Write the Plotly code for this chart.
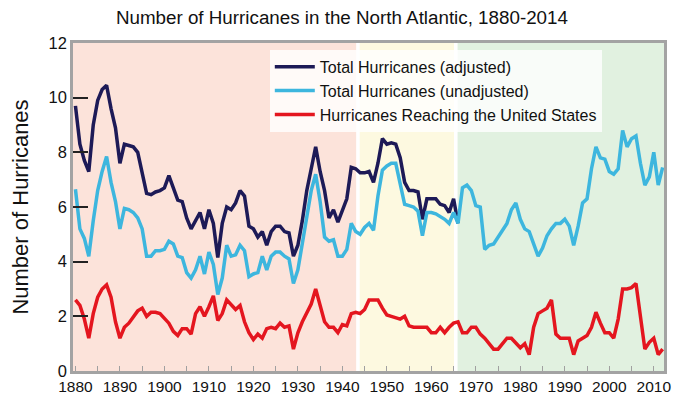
import plotly.graph_objects as go

years = list(range(1880, 2013))

adjusted_years = list(range(1880, 1967))
adjusted = [
    9.7, 8.3, 7.7, 7.3, 9.0, 9.9, 10.3, 10.45, 9.6, 8.9,
    7.6, 8.3, 8.25, 8.2, 8.0, 7.3, 6.5, 6.45, 6.55, 6.6,
    6.7, 7.15, 6.7, 6.25, 6.2, 5.6, 5.2, 5.5, 5.8, 5.2,
    5.9, 5.4, 4.15, 5.4, 6.0, 5.9, 6.15, 6.6, 6.4, 5.3,
    5.2, 4.9, 5.1, 4.6, 5.1, 5.3, 5.3, 5.1, 5.05, 4.2,
    4.6, 5.5, 6.6, 7.4, 8.2, 7.3, 6.6, 5.6, 5.9, 5.45,
    5.9, 6.3, 7.45, 7.4, 7.25, 7.25, 7.3, 6.9, 7.6, 8.5,
    8.3, 8.35, 8.3, 7.8, 6.9, 6.6, 6.6, 6.55, 5.55, 6.3,
    6.3, 6.3, 6.1, 6.05, 5.8, 6.3, 5.4,
]

unadjusted = [
    6.65, 5.2, 4.85, 4.2, 5.5, 6.6, 7.3, 7.85, 6.9, 6.2,
    5.2, 5.95, 5.9, 5.8, 5.6, 5.2, 4.2, 4.2, 4.4, 4.4,
    4.45, 4.75, 4.65, 4.2, 4.15, 3.6, 3.4, 3.7, 4.2, 3.55,
    4.35, 3.9, 2.8, 3.4, 4.6, 4.2, 4.25, 4.6, 4.4, 3.45,
    3.55, 3.6, 4.2, 3.7, 4.2, 4.35, 4.35, 4.2, 4.1, 3.2,
    3.7, 4.65, 5.75, 6.6, 7.2, 6.2, 4.9, 4.75, 4.8, 4.2,
    4.2, 4.45, 5.4, 5.1, 5.0, 5.25, 5.4, 5.15, 6.4, 7.35,
    7.5, 7.6, 7.6, 6.9, 6.1, 6.05, 6.0, 5.85, 4.95, 5.8,
    5.8, 5.75, 5.65, 5.55, 5.4, 5.8, 5.4, 6.7, 6.8, 6.6,
    6.05, 6.0, 4.45, 4.6, 4.65, 4.9, 5.15, 5.4, 5.9, 6.15,
    5.55, 5.2, 5.1, 4.6, 4.2, 4.5, 4.95, 5.2, 5.4, 5.4,
    5.55, 5.3, 4.6, 5.3, 6.15, 6.3, 7.4, 8.2, 7.8, 7.75,
    7.3, 7.2, 7.4, 8.8, 8.2, 8.5, 8.6, 7.6, 6.8, 7.1,
    8.0, 6.8, 7.45,
]

us_landfalls = [
    2.6, 2.4, 1.9, 1.2, 2.1, 2.7, 3.0, 3.15, 2.7, 1.8,
    1.2, 1.6, 1.75, 1.95, 2.2, 2.3, 2.0, 2.15, 2.15, 2.1,
    1.9, 1.75, 1.45, 1.3, 1.55, 1.55, 1.35, 2.1, 2.35, 2.0,
    2.35, 2.75, 1.85, 2.1, 2.6, 2.4, 2.25, 2.4, 1.8, 1.4,
    1.15, 1.35, 1.2, 1.55, 1.6, 1.55, 1.75, 1.6, 1.65, 0.8,
    1.4, 1.8, 2.1, 2.45, 3.0, 2.45, 1.8, 1.6, 1.6, 1.4,
    1.7, 1.65, 2.1, 2.15, 2.1, 2.25, 2.6, 2.6, 2.6, 2.3,
    2.05, 2.0, 1.95, 1.9, 2.0, 1.65, 1.6, 1.6, 1.6, 1.6,
    1.4, 1.4, 1.6, 1.4, 1.6, 1.75, 1.8, 1.4, 1.4, 1.6,
    1.6, 1.35, 1.2, 1.0, 0.8, 0.8, 1.0, 1.2, 1.2, 1.0,
    0.85, 1.0, 0.6, 1.6, 2.1, 2.2, 2.3, 2.6, 1.35, 1.2,
    1.2, 1.2, 0.6, 1.1, 1.2, 1.3, 1.6, 2.15, 1.75, 1.4,
    1.4, 1.2, 1.9, 3.0, 3.0, 3.05, 3.2, 2.0, 0.8, 1.05,
    1.2, 0.6, 0.8,
]

period_starts = [1879.4, 1943.9, 1965.9]
period_ends = [1943.1, 1965.1, 2012.3]
period_colors = ["#fce3da", "#fdf9e0", "#e1f1e0"]

x_tick_vals = list(range(1880, 2011, 10))
y_tick_vals = [0, 2, 4, 6, 8, 10, 12]

fig = go.Figure()
fig.add_trace(go.Scatter(x=adjusted_years, y=adjusted, mode="lines",
                         name="Total Hurricanes (adjusted)",
                         line=dict(color="#1d1a57", width=3.5)))
fig.add_trace(go.Scatter(x=years, y=unadjusted, mode="lines",
                         name="Total Hurricanes (unadjusted)",
                         line=dict(color="#3db6de", width=3.5)))
fig.add_trace(go.Scatter(x=years, y=us_landfalls, mode="lines",
                         name="Hurricanes Reaching the United States",
                         line=dict(color="#e4161f", width=3.5)))

for x0, x1, c in zip(period_starts, period_ends, period_colors):
    fig.add_shape(type="rect", xref="x", yref="paper", x0=x0, x1=x1, y0=0, y1=1,
                  fillcolor=c, line=dict(width=0), layer="below")

# the page body adds an 8px offset, so the figure is 8px smaller on each side
fig.update_layout(
    width=676, height=393,
    margin=dict(l=65, r=20, t=35, b=30, autoexpand=False),
    paper_bgcolor="white", plot_bgcolor="white",
    font=dict(family="Liberation Sans, Arial, sans-serif", color="#111111"),
    title=dict(text="Number of Hurricanes in the North Atlantic, 1880-2014",
               x=0.494, xanchor="center", y=0.975, yanchor="middle",
               font=dict(size=18.8, color="#111111")),
    showlegend=True,
    legend=dict(x=0.333, y=0.979, xanchor="left", yanchor="top",
                bgcolor="rgba(255,255,255,0.8)", borderwidth=0,
                font=dict(size=16, color="#111111"), tracegroupgap=0,
                itemwidth=40),
    xaxis=dict(range=[1879.45, 2012.3], tickvals=x_tick_vals,
               ticks="inside", ticklen=5, tickcolor="#a0a0a0", tickwidth=1,
               minor=dict(dtick=5, tick0=1880, ticks="inside", ticklen=5,
                          tickcolor="#a0a0a0", tickwidth=1),
               showgrid=False, zeroline=False, automargin=False,
               showline=True, linecolor="#a3a3a3", linewidth=2.5, mirror=True,
               tickfont=dict(size=15.5)),
    yaxis=dict(range=[0, 12], tickvals=y_tick_vals,
               ticks="inside", ticklen=15, tickcolor="#222222", tickwidth=1.5,
               showgrid=False, zeroline=False, automargin=False,
               showline=True, linecolor="#a3a3a3", linewidth=2.5, mirror=True,
               tickfont=dict(size=16.5),
               title=dict(text="Number of Hurricanes", font=dict(size=22), standoff=21)),
)

fig.write_html("out.html")
